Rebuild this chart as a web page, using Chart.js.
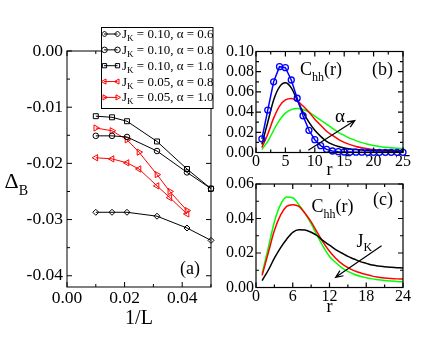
<!DOCTYPE html>
<html><head><meta charset="utf-8">
<script src="https://cdn.jsdelivr.net/npm/chart.js@4.4.1/dist/chart.umd.min.js"></script>
<style>
html,body{margin:0;padding:0;background:#fff;}
#wrap{position:relative;width:436px;height:337px;overflow:hidden;background:#fff;}
canvas{position:absolute;}
#ca{left:0;top:0;}
#cb{left:216px;top:0;}
#cc{left:216px;top:170px;}
</style></head><body>
<div id="wrap">
<canvas id="ca" width="216" height="337"></canvas>
<canvas id="cb" width="220" height="184"></canvas>
<canvas id="cc" width="220" height="167"></canvas>
</div>
<script>
// ---------- Panel (a): Delta_B vs 1/L ----------
const invL_J010 = [0.01, 0.015625, 0.020833, 0.03125, 0.041667, 0.05];
const invL_J005 = [0.01, 0.015625, 0.020833, 0.025, 0.03125, 0.035714, 0.041667];
const dB_J010_a06 = [-0.0287, -0.0287, -0.0287, -0.0294, -0.0315, -0.0337];
const dB_J010_a08 = [-0.0151, -0.0151, -0.0153, -0.0178, -0.0216, -0.0245];
const dB_J010_a10 = [-0.0116, -0.0118, -0.0125, -0.0161, -0.0210, -0.0245];
const dB_J005_a08 = [-0.0190, -0.0192, -0.0199, -0.0210, -0.0240, -0.0261, -0.0290];
const dB_J005_a10 = [-0.0137, -0.0142, -0.0158, -0.0180, -0.0220, -0.0250, -0.0284];
const legendJK    = ['0.10', '0.10', '0.10', '0.05', '0.05'];
const legendAlpha = ['0.6', '0.8', '1.0', '0.8', '1.0'];

// ---------- Panel (b): C_hh(r) for several alpha ----------
const rB = [1,2,3,4,5,6,7,8,9,10,11,12,13,14,15,16,17,18,19,20,21,22,23,24,25];
const cB_blue  = [0.0135,0.042,0.070,0.085,0.084,0.0718,0.0537,0.0364,0.022,0.0127,0.0068,0.0031,0.0015,0.0008,0.0005,0.0004,0.0003,0.0003,0.0002,0.0002,0.0002,0.0002,0.0002,0.0002,0.0002];
const cB_black = [0.008,0.030,0.052,0.065,0.069,0.064,0.052,0.040,0.030,0.022,0.016,0.011,0.008,0.006,0.0045,0.0035,0.003,0.0025,0.002,0.0018,0.0016,0.0015,0.0014,0.0013,0.0013];
const cB_red   = [0.005,0.018,0.034,0.046,0.052,0.0535,0.051,0.046,0.040,0.033,0.027,0.021,0.017,0.013,0.010,0.0078,0.006,0.0047,0.0037,0.003,0.0026,0.0022,0.002,0.0018,0.0017];
const cB_green = [0.003,0.011,0.022,0.032,0.039,0.0425,0.0435,0.0425,0.040,0.036,0.032,0.028,0.024,0.020,0.017,0.014,0.0118,0.0098,0.0082,0.007,0.006,0.0052,0.0046,0.0042,0.004];

// ---------- Panel (c): C_hh(r) for several J_K ----------
const rC = [1,2,3,4,5,6,7,8,9,10,11,12,13,14,15,16,17,18,19,20,21,22,23,24];
const cC_black = [0.004,0.010,0.017,0.023,0.028,0.032,0.0335,0.0333,0.032,0.030,0.027,0.0245,0.022,0.020,0.018,0.0165,0.015,0.014,0.013,0.0125,0.012,0.0117,0.0115,0.0113];
const cC_red   = [0.007,0.020,0.033,0.042,0.047,0.048,0.047,0.043,0.038,0.032,0.026,0.021,0.017,0.0138,0.0115,0.0098,0.0085,0.0075,0.0066,0.006,0.0055,0.0052,0.005,0.0049];
const cC_green = [0.008,0.023,0.038,0.048,0.0525,0.052,0.048,0.043,0.037,0.030,0.0235,0.018,0.0145,0.0115,0.0093,0.0077,0.0065,0.0057,0.005,0.0045,0.004,0.0037,0.0035,0.0033];

const FONT = "'Liberation Serif','Times New Roman',serif";
const RED = '#ff0000', GREEN = '#00ff00', BLUE = '#0000ff', BLACK = '#000000';

function pts(xs, ys) { return xs.map((x, i) => ({x: x, y: ys[i]})); }
function fmt2(v) { if (Math.abs(v) < 1e-9) v = 0; return v.toFixed(2); }

function minorVals(scale) {
  const v = scale.ticks.map(t => t.value).sort((p, q) => p - q);
  const out = [];
  if (v.length < 2) return out;
  const st = v[1] - v[0];
  for (let k = v[0] - st / 2; k <= scale.max + 1e-9; k += st) {
    if (k >= scale.min - 1e-9) out.push(k);
  }
  return out;
}

function makeFrame(major, minor, lw) {
  return {
    id: 'frameTicks',
    afterDatasetsDraw(chart) {
      const ctx = chart.ctx, a = chart.chartArea;
      const xs = chart.scales.x, ys = chart.scales.y;
      ctx.save();
      ctx.strokeStyle = '#000';
      ctx.lineWidth = lw;
      ctx.strokeRect(a.left, a.top, a.right - a.left, a.bottom - a.top);
      ctx.beginPath();
      const drawX = (v, len) => {
        const p = xs.getPixelForValue(v);
        ctx.moveTo(p, a.bottom); ctx.lineTo(p, a.bottom - len);
        ctx.moveTo(p, a.top); ctx.lineTo(p, a.top + len);
      };
      const drawY = (v, len) => {
        const p = ys.getPixelForValue(v);
        ctx.moveTo(a.left, p); ctx.lineTo(a.left + len, p);
        ctx.moveTo(a.right, p); ctx.lineTo(a.right - len, p);
      };
      xs.ticks.forEach(t => drawX(t.value, major));
      ys.ticks.forEach(t => drawY(t.value, major));
      minorVals(xs).forEach(v => drawX(v, minor));
      minorVals(ys).forEach(v => drawY(v, minor));
      ctx.stroke();
      ctx.restore();
    }
  };
}

function text(ctx, s, x, y, size, align, baseline) {
  ctx.save();
  ctx.font = size + 'px ' + FONT;
  ctx.textAlign = align || 'left';
  ctx.textBaseline = baseline || 'alphabetic';
  ctx.fillStyle = '#000';
  ctx.fillText(s, x, y);
  const w = ctx.measureText(s).width;
  ctx.restore();
  return w;
}
function subText(ctx, main, sub, tail, x, y, size, subSize, subDrop) {
  const w = text(ctx, main, x, y, size);
  const w2 = text(ctx, sub, x + w, y + subDrop, subSize);
  const w3 = tail ? text(ctx, tail, x + w + w2, y, size) : 0;
  return w + w2 + w3;
}
function arrow(ctx, x0, y0, x1, y1, head) {
  const ang = Math.atan2(y1 - y0, x1 - x0);
  ctx.save();
  ctx.strokeStyle = '#000'; ctx.lineWidth = 1.2;
  ctx.beginPath();
  ctx.moveTo(x0, y0); ctx.lineTo(x1, y1);
  ctx.moveTo(x1 - head * Math.cos(ang - 0.4), y1 - head * Math.sin(ang - 0.4));
  ctx.lineTo(x1, y1);
  ctx.lineTo(x1 - head * Math.cos(ang + 0.4), y1 - head * Math.sin(ang + 0.4));
  ctx.stroke();
  ctx.restore();
}
function marker(ctx, style, rot, r, x, y, color) {
  ctx.save();
  ctx.strokeStyle = color; ctx.fillStyle = 'rgba(0,0,0,0)'; ctx.lineWidth = 1;
  if (Chart.helpers && Chart.helpers.drawPoint) {
    Chart.helpers.drawPoint(ctx, {pointStyle: style, radius: r, rotation: rot, borderWidth: 1}, x, y);
  } else {
    ctx.beginPath(); ctx.arc(x, y, r, 0, Math.PI * 2); ctx.stroke();
  }
  ctx.restore();
}

function tickOpts(size, step, pad, cb) {
  return {color: '#000', font: {family: FONT, size: size}, includeBounds: false, stepSize: step,
          padding: pad, maxRotation: 0, minRotation: 0, autoSkip: false, callback: cb};
}
function scaleCommon(extra) {
  return Object.assign({type: 'linear', grid: {display: false, drawTicks: false}, border: {display: false}}, extra);
}

// ---------- Chart A (canvas at page 0,0) ----------
const dsA = [
  {data: pts(invL_J010, dB_J010_a06), borderColor: BLACK, pointStyle: 'rectRot', pointRadius: 3, pointRotation: 0},
  {data: pts(invL_J010, dB_J010_a08), borderColor: BLACK, pointStyle: 'circle', pointRadius: 2.8, pointRotation: 0},
  {data: pts(invL_J010, dB_J010_a10), borderColor: BLACK, pointStyle: 'rect', pointRadius: 3.5, pointRotation: 0},
  {data: pts(invL_J005, dB_J005_a08), borderColor: RED, pointStyle: 'triangle', pointRadius: 3.6, pointRotation: -90},
  {data: pts(invL_J005, dB_J005_a10), borderColor: RED, pointStyle: 'triangle', pointRadius: 3.6, pointRotation: 90}
].map(d => Object.assign(d, {
  borderWidth: 1, pointBorderColor: d.borderColor, pointBackgroundColor: 'rgba(0,0,0,0)',
  pointBorderWidth: 1, tension: 0, clip: false
}));

const annotA = {
  id: 'annotA',
  afterDraw(chart) {
    const ctx = chart.ctx;
    subText(ctx, 'Δ', 'B', '', 4.5, 188, 22, 14, 7);
    text(ctx, '(a)', 190, 274, 18, 'center');
    ctx.save();
    ctx.fillStyle = '#fff';
    ctx.fillRect(101, 27.5, 112, 81);
    ctx.strokeStyle = '#000'; ctx.lineWidth = 1;
    ctx.strokeRect(101.5, 27.5, 111.5, 81);
    ctx.restore();
    const ds = chart.data.datasets;
    for (let i = 0; i < ds.length; i++) {
      const y = 34 + i * 15.85;
      const d = ds[i];
      ctx.save();
      ctx.strokeStyle = d.borderColor; ctx.lineWidth = 1;
      ctx.beginPath(); ctx.moveTo(104, y); ctx.lineTo(117.5, y); ctx.stroke();
      ctx.restore();
      const r = Math.min(d.pointRadius, 3);
      marker(ctx, d.pointStyle, d.pointRotation, r, 104.5, y, d.borderColor);
      marker(ctx, d.pointStyle, d.pointRotation, r, 117.5, y, d.borderColor);
      subText(ctx, 'J', 'K', ' = ' + legendJK[i] + ', α = ' + legendAlpha[i], 122, y + 4, 13, 9, 3);
    }
  }
};

new Chart(document.getElementById('ca'), {
  type: 'line',
  data: {datasets: dsA},
  options: {
    responsive: false, animation: false,
    layout: {padding: {left: 7, right: 4, top: 51, bottom: 5}},
    plugins: {legend: {display: false}, tooltip: {enabled: false}},
    scales: {
      x: scaleCommon({min: 0, max: 0.05,
        afterFit(s) { s.height = 45; },
        ticks: tickOpts(17.5, 0.02, 0.5, fmt2),
        title: {display: true, text: '1/L', color: '#000', font: {family: FONT, size: 20}, padding: {top: 0, bottom: 1}}}),
      y: scaleCommon({min: -0.042, max: 0,
        afterFit(s) { s.width = 60; },
        ticks: tickOpts(17.5, 0.01, 4, fmt2)})
    }
  },
  plugins: [makeFrame(5, 3, 1), annotA]
});

// ---------- Chart B (canvas at page 216,0) ----------
const curveOpts = {borderWidth: 1.5, pointRadius: 0, cubicInterpolationMode: 'monotone', clip: false};
const dsB = [
  {data: pts(rB, cB_blue), borderColor: BLUE, borderWidth: 1.5, pointStyle: 'circle', pointRadius: 3,
   pointBorderColor: BLUE, pointBackgroundColor: 'rgba(0,0,0,0)', pointBorderWidth: 1.3, tension: 0, clip: false},
  Object.assign({data: pts(rB, cB_black), borderColor: BLACK}, curveOpts),
  Object.assign({data: pts(rB, cB_red), borderColor: RED}, curveOpts),
  Object.assign({data: pts(rB, cB_green), borderColor: GREEN}, curveOpts)
];
const annotB = {
  id: 'annotB',
  afterDraw(chart) {
    const ctx = chart.ctx, xs = chart.scales.x, ys = chart.scales.y;
    ctx.save();
    ctx.translate(-216, 0);
    subText(ctx, 'C', 'hh', '(r)', 300, 75, 18, 12, 6);
    text(ctx, '(b)', 382.5, 75, 18, 'center');
    text(ctx, 'α', 340, 122, 19, 'center');
    ctx.restore();
    arrow(ctx, xs.getPixelForValue(8.9), ys.getPixelForValue(0.0022), xs.getPixelForValue(16.8), ys.getPixelForValue(0.0316), 8);
  }
};
new Chart(document.getElementById('cb'), {
  type: 'line',
  data: {datasets: dsB},
  options: {
    responsive: false, animation: false,
    layout: {padding: {left: 4, right: 33, top: 51.5, bottom: 2.5}},
    plugins: {legend: {display: false}, tooltip: {enabled: false}},
    scales: {
      x: scaleCommon({min: 0, max: 25,
        afterFit(s) { s.height = 29; },
        ticks: tickOpts(16, 5, 0, v => String(Math.round(v))),
        title: {display: true, text: 'r', color: '#000', font: {family: FONT, size: 18}, padding: {top: 0, bottom: 0.2}}}),
      y: scaleCommon({min: 0, max: 0.1,
        afterFit(s) { s.width = 36; },
        ticks: tickOpts(16, 0.02, 2, fmt2)})
    }
  },
  plugins: [makeFrame(5, 3, 1.2), annotB]
});

// ---------- Chart C (canvas at page 216,170) ----------
const dsC = [
  Object.assign({data: pts(rC, cC_black), borderColor: BLACK}, curveOpts),
  Object.assign({data: pts(rC, cC_red), borderColor: RED}, curveOpts),
  Object.assign({data: pts(rC, cC_green), borderColor: GREEN}, curveOpts)
];
const annotC = {
  id: 'annotC',
  afterDraw(chart) {
    const ctx = chart.ctx, xs = chart.scales.x, ys = chart.scales.y, a = chart.chartArea;
    // y tick labels taken from the library's own y-scale ticks and pixel positions
    ys.ticks.forEach(t => {
      text(ctx, fmt2(t.value), a.left - 2, ys.getPixelForValue(t.value), 16, 'right', 'middle');
    });
    ctx.save();
    ctx.translate(-216, -170);
    subText(ctx, 'C', 'hh', '(r)', 311.5, 211.5, 18, 12, 6);
    text(ctx, '(c)', 383, 205, 18, 'center');
    subText(ctx, 'J', 'K', '', 356.5, 246.5, 18, 12, 4);
    ctx.restore();
    arrow(ctx, xs.getPixelForValue(20.5), ys.getPixelForValue(0.0242), xs.getPixelForValue(13.0), ys.getPixelForValue(0.0059), 8);
  }
};
const yC = scaleCommon({min: 0, max: 0.06,
  afterFit(s) { s.width = 36; },
  ticks: tickOpts(16, 0.02, 2, fmt2)});
yC.ticks.display = false;
new Chart(document.getElementById('cc'), {
  type: 'line',
  data: {datasets: dsC},
  options: {
    responsive: false, animation: false,
    layout: {padding: {left: 4, right: 33, top: 14, bottom: 18.5}},
    plugins: {legend: {display: false}, tooltip: {enabled: false}},
    scales: {
      x: scaleCommon({min: 0, max: 24,
        afterFit(s) { s.height = 31; },
        ticks: tickOpts(16, 6, 0, v => String(Math.round(v))),
        title: {display: true, text: 'r', color: '#000', font: {family: FONT, size: 18}, padding: {top: 0, bottom: 0.2}}}),
      y: yC
    }
  },
  plugins: [makeFrame(5, 3, 1.2), annotC]
});
</script>
</body></html>
